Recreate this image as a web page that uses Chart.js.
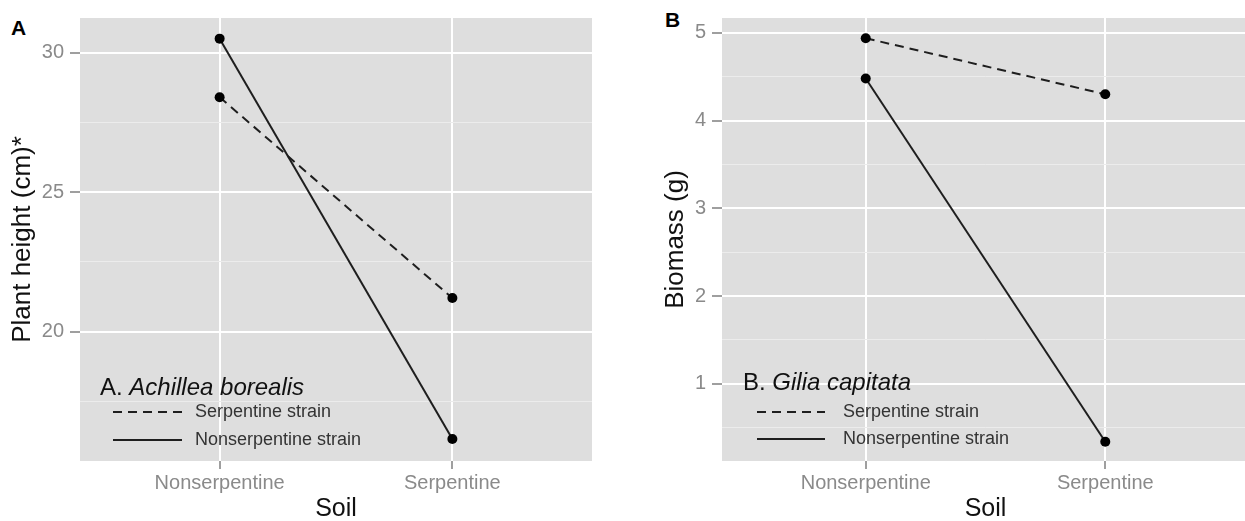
<!DOCTYPE html>
<html lang="en">
<head>
  <meta charset="UTF-8">
  <title>Serpentine soil reciprocal transplant</title>
  <script src="https://cdn.jsdelivr.net/npm/chart.js"></script>
  <style>
    html, body { margin: 0; padding: 0; background: #fff; overflow: hidden; }
    body { width: 1245px; height: 521px; position: relative; font-family: "Liberation Sans", Arial, sans-serif; }
    canvas { position: absolute; top: 0; }
    #chartA { left: 0; }
    #chartB { left: 620px; }
    .panel { position: absolute; font-weight: bold; font-size: 21px; line-height: 1; color: #000; }
  </style>
</head>
<body>
  <div class="panel" style="left:11px; top:17px;">A</div>
  <div class="panel" style="left:665px; top:9px;">B</div>
  <canvas id="chartA" width="620" height="521"></canvas>
  <canvas id="chartB" width="640" height="521"></canvas>
  <script>
    // data
    const soils = ['Nonserpentine', 'Serpentine'];
    const strains = ['Serpentine strain', 'Nonserpentine strain'];
    const heightSerpStrain = [28.4, 21.2];
    const heightNonserpStrain = [30.5, 16.15];
    const biomassSerpStrain = [4.94, 4.30];
    const biomassNonserpStrain = [4.48, 0.34];
    const heightTicks = [17.5, 20, 22.5, 25, 27.5, 30];
    const biomassTicks = [0.5, 1, 1.5, 2, 2.5, 3, 3.5, 4, 4.5, 5];

    const FONT = '"Liberation Sans", Arial, sans-serif';
    const xs = soils.map((s, i) => i + 1);
    const pts = vals => vals.map((v, i) => ({ x: xs[i], y: v }));

    const panelBg = {
      id: 'panelBg',
      beforeDraw(chart) {
        const { ctx, chartArea: a } = chart;
        ctx.save();
        ctx.fillStyle = '#dedede';
        ctx.fillRect(a.left, a.top, a.right - a.left, a.bottom - a.top);
        ctx.restore();
      }
    };

    // legend drawn inside the panel, title partly italic
    const insideLegend = {
      id: 'insideLegend',
      afterDatasetsDraw(chart, args, o) {
        const { ctx, chartArea: a } = chart;
        ctx.save();
        ctx.textBaseline = 'alphabetic';
        ctx.fillStyle = '#111';
        ctx.font = '24px ' + FONT;
        let x = a.left + o.left;
        ctx.fillText(o.prefix, x, o.titleY);
        x += ctx.measureText(o.prefix).width;
        ctx.font = 'italic 24px ' + FONT;
        ctx.fillText(o.species, x, o.titleY);
        chart.data.datasets.forEach((ds, i) => {
          const y = o.rowY[i];
          ctx.strokeStyle = ds.borderColor;
          ctx.lineWidth = 2;
          ctx.setLineDash(ds.borderDash || []);
          ctx.beginPath();
          ctx.moveTo(a.left + o.lineFrom, y);
          ctx.lineTo(a.left + o.lineTo, y);
          ctx.stroke();
          ctx.setLineDash([]);
          ctx.fillStyle = '#333';
          ctx.font = '18px ' + FONT;
          ctx.textBaseline = 'middle';
          ctx.fillText(ds.label, a.left + o.textX, y);
        });
        ctx.restore();
      }
    };

    function makeChart(id, cfg) {
      const majors = cfg.ticks.filter(v => Number.isInteger(v / cfg.major));
      return new Chart(document.getElementById(id), {
        type: 'line',
        data: {
          datasets: [
            { label: strains[0], data: pts(cfg.serp), borderColor: '#1e1e1e', borderWidth: 2,
              borderDash: [9, 6], pointRadius: 5, pointBorderWidth: 0, pointBackgroundColor: '#000' },
            { label: strains[1], data: pts(cfg.nonserp), borderColor: '#1e1e1e', borderWidth: 2,
              pointRadius: 5, pointBorderWidth: 0, pointBackgroundColor: '#000' }
          ]
        },
        options: {
          responsive: false,
          animation: false,
          layout: { padding: { top: 17, right: cfg.padRight, bottom: 0, left: 0 } },
          plugins: {
            legend: { display: false },
            tooltip: { enabled: false },
            insideLegend: cfg.legend
          },
          scales: {
            x: {
              type: 'linear', min: 0.4, max: 2.6,
              afterBuildTicks: s => { s.ticks = xs.map(v => ({ value: v })); },
              afterFit: s => { s.height = 60; },
              border: { display: false },
              grid: { color: '#ffffff', lineWidth: 2, tickColor: '#7f7f7f', tickLength: 8, tickWidth: 1.5 },
              ticks: { color: '#8a8a8a', font: { family: FONT, size: 20 }, padding: 2,
                callback: v => soils[v - 1] },
              title: { display: true, text: 'Soil', color: '#111', font: { family: FONT, size: 25 },
                padding: { top: 0, bottom: -3 } }
            },
            y: {
              min: cfg.min, max: cfg.max,
              afterBuildTicks: s => { s.ticks = cfg.ticks.map(v => ({ value: v })); },
              afterFit: s => { s.width = cfg.yWidth; },
              border: { display: false },
              grid: {
                color: c => majors.includes(c.tick.value) ? '#ffffff' : '#ececec',
                lineWidth: c => majors.includes(c.tick.value) ? 2 : 1,
                tickColor: c => majors.includes(c.tick.value) ? '#7f7f7f' : 'rgba(0,0,0,0)',
                tickLength: 10, tickWidth: 1.5
              },
              ticks: { color: '#8a8a8a', font: { family: FONT, size: 20 }, padding: 6,
                callback: v => majors.includes(v) ? String(v) : '' },
              title: { display: true, text: cfg.yTitle, color: '#111', font: { family: FONT, size: 26 },
                padding: { top: cfg.titlePad, bottom: 0 } }
            }
          }
        },
        plugins: [panelBg, insideLegend]
      });
    }

    makeChart('chartA', {
      serp: heightSerpStrain, nonserp: heightNonserpStrain,
      ticks: heightTicks, major: 5, min: 15.36, max: 31.24,
      yTitle: 'Plant height (cm)*', yWidth: 80, titlePad: 7, padRight: 28,
      legend: { prefix: 'A. ', species: 'Achillea borealis', left: 20, titleY: 395,
        rowY: [412, 440], lineFrom: 33, lineTo: 102, textX: 115 }
    });

    makeChart('chartB', {
      serp: biomassSerpStrain, nonserp: biomassNonserpStrain,
      ticks: biomassTicks, major: 1, min: 0.12, max: 5.17,
      yTitle: 'Biomass (g)', yWidth: 102, titlePad: 40, padRight: 11,
      legend: { prefix: 'B. ', species: 'Gilia capitata', left: 21, titleY: 390,
        rowY: [412, 439], lineFrom: 35, lineTo: 103, textX: 121 }
    });
  </script>
</body>
</html>
